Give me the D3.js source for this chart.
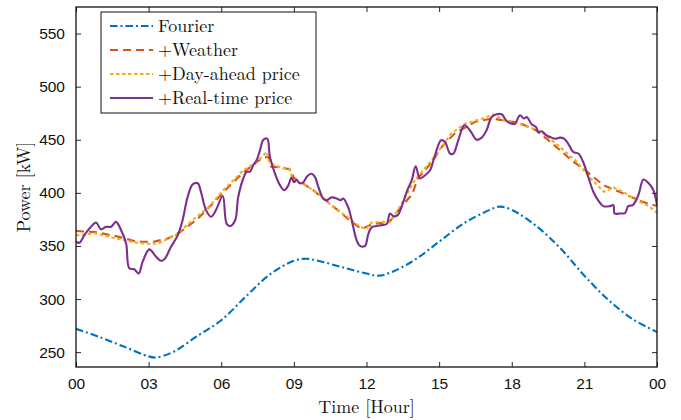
<!DOCTYPE html>
<html>
<head>
<meta charset="utf-8">
<script src="https://cdn.jsdelivr.net/npm/d3@7"></script>
<style>
  body { margin: 0; background: #fff; }
  svg { display: block; font-family: "Latin Modern Roman", "CMU Serif", "Liberation Serif", serif; }
</style>
</head>
<body>
<svg class="chart"></svg>
<script>
// tick labels
const xTicks = [0, 3, 6, 9, 12, 15, 18, 21, 24]
const xTickLabels = ["00", "03", "06", "09", "12", "15", "18", "21", "00"]
const yTicks = [250, 300, 350, 400, 450, 500, 550]

// series (hour, kW)
const fourierHours = [0,1,2,3,3.3,4,5,6,7,8,9,9.5,10,11,12,12.5,13,14,15,16,17,17.5,18,19,20,21,22,23,24]
const fourierValues = [272,264,255,246,245,250,265,280,302,323,336,338,336,330,324,322,325,337,354,371,383,387,384,369,348,322,299,281,269]

const weatherHours = [0,0.8,1.7,2.5,3.2,3.8,4.3,5,5.7,6.1,6.9,7.7,7.95,8.05,8.5,8.85,9.0,9.3,9.8,10.2,10.8,11.3,11.8,12.1,12.3,12.8,13.0,13.4,13.9,14.1,14.7,15.1,15.65,16.5,17.2,17.7,18.3,19.0,19.7,20.4,21.1,21.8,22.6,23.4,24]
const weatherValues = [364,363,359,354,354,357,363,375,391,401,419,433,434,424.5,424,422,414,410,402.5,395,384,374,366,369,371,372,374,386,399,413,429,443,456,467,470,468,466,459,446,432,420,407,399.5,391.5,387.5]

const dayAheadHours = [0,0.8,1.65,2.5,3.0,3.4,4.1,4.8,5.5,6.06,6.2,6.9,7.46,7.87,8.0,8.56,8.8,8.97,9.5,10.08,10.6,11.2,11.73,12.0,12.2,12.7,12.95,13.3,13.6,14.0,14.7,15.1,15.5,16.07,16.8,17.24,17.7,18.3,19.0,19.3,20.0,20.7,21.2,21.8,22.2,22.6,23.15,23.7,24]
const dayAheadValues = [360,362,357,353,352,352.4,360,374,387,402,405,421,429,438.5,428,423,423,412,407,398,387,377.5,368,366,372,372.7,372,384,396,412,431,443,456,465,470,474,468,465,459.6,456,443,429,415,401,405,401,393,387,381]

const realTimeHours = [0,0.14,0.34,0.62,0.83,1.03,1.24,1.45,1.65,1.86,2.07,2.2,2.41,2.59,2.75,3.03,3.3,3.51,3.65,3.92,4.2,4.4,4.61,4.82,5.03,5.16,5.37,5.58,5.78,6.06,6.22,6.36,6.57,6.7,6.91,7.05,7.19,7.32,7.46,7.6,7.74,7.9,8.01,8.22,8.43,8.6,8.77,8.9,9.0,9.11,9.25,9.39,9.55,9.73,9.87,10.01,10.21,10.35,10.56,10.77,10.93,11.04,11.25,11.45,11.59,11.73,11.94,12.07,12.21,12.42,12.63,12.83,12.97,13.11,13.29,13.45,13.66,13.87,14.03,14.21,14.42,14.62,14.83,15.08,15.24,15.45,15.59,15.79,16.04,16.27,16.55,16.76,16.96,17.17,17.38,17.58,17.79,18.0,18.13,18.34,18.5,18.62,18.82,19.0,19.1,19.24,19.44,19.65,19.79,19.99,20.16,20.33,20.54,20.75,20.95,21.16,21.37,21.57,21.78,22.06,22.2,22.25,22.47,22.68,22.81,23.0,23.23,23.44,23.64,23.85,24]
const realTimeValues = [354,353,360,368,372,365.6,368,368,372.7,365,352.4,329,328,324,335,346.8,340,336,337.4,349,360,374,396,408,409,401,383.7,377.5,383.7,397,371,368.7,374,396,413.5,419.7,420,426,430.7,440,450,451,434,418,407,402.5,407,414.5,410,412,409,410,415.7,418,415,405.6,394.7,393,395.7,394.7,393,394.7,386,368,355.5,350,350,361,367.5,368.7,369.6,370.6,380.6,378,379,386.8,401,412,425,413.5,416.6,421,435.4,449.5,448,437,437,449.5,463.6,459,450,452,459,471.4,474,474,467.7,465,465,473,470,471.4,464.6,462,457,458,454,452,451,452,451,446.4,438.5,437,429,415,401,393,387.5,387.5,388.4,380.6,380.6,381,387.5,388.4,398,412.6,409.4,402.5,388.4]

const seriesNames = ["Fourier", "+Weather", "+Day-ahead price", "+Real-time price"]

let svg = d3.select(".chart"),
    W = 681, H = 420,
    margin = {top: 7, right: 24, bottom: 53, left: 76},
    width = W - margin.left - margin.right,
    height = H - margin.top - margin.bottom

svg.attr("width", W).attr("height", H)

let x = d3.scaleLinear().domain([0, 24]).range([0, width]),
    y = d3.scaleLinear().domain([236, 575]).range([height, 0])

let g = svg.append("g").attr("transform", "translate(" + margin.left + "," + margin.top + ")")

let series = [
  {name: seriesNames[0], hours: fourierHours, values: fourierValues, color: "#0072BD", dash: "7.5,3,2,3", curve: d3.curveCatmullRom},
  {name: seriesNames[1], hours: weatherHours, values: weatherValues, color: "#D95319", dash: "8,5", curve: d3.curveLinear},
  {name: seriesNames[2], hours: dayAheadHours, values: dayAheadValues, color: "#EDB120", dash: "3.5,2.5", curve: d3.curveLinear},
  {name: seriesNames[3], hours: realTimeHours, values: realTimeValues, color: "#7E2F8E", dash: null, curve: d3.curveCatmullRom}
]

let clip = svg.append("defs").append("clipPath").attr("id", "plotclip")
clip.append("rect").attr("width", width).attr("height", height)

let plot = g.append("g").attr("clip-path", "url(#plotclip)")
series.forEach(s => {
  let line = d3.line().x(d => x(d[0])).y(d => y(d[1])).curve(s.curve)
  plot.append("path")
    .datum(d3.zip(s.hours, s.values))
    .attr("fill", "none")
    .attr("stroke", s.color)
    .attr("stroke-width", 2.1)
    .attr("stroke-linejoin", "round")
    .attr("stroke-dasharray", s.dash)
    .attr("d", line)
})

// axes, ticks inward, mirrored on top/right
function styleAxis(sel) {
  sel.select(".domain").remove()
  sel.selectAll(".tick line").attr("stroke", "#262626").attr("stroke-width", 1)
  sel.selectAll(".tick text").attr("fill", "#111").attr("font-size", 15.5).attr("font-family", null)
}
g.append("g").attr("transform", "translate(0," + height + ")")
  .call(d3.axisBottom(x).tickValues(xTicks).tickFormat((d, i) => xTickLabels[i]).tickSizeInner(-5).tickSizeOuter(0).tickPadding(11))
  .call(styleAxis)
g.append("g")
  .call(d3.axisTop(x).tickValues(xTicks).tickFormat("").tickSizeInner(-5).tickSizeOuter(0))
  .call(styleAxis)
g.append("g")
  .call(d3.axisLeft(y).tickValues(yTicks).tickSizeInner(-5).tickSizeOuter(0).tickPadding(11))
  .call(styleAxis)
g.append("g").attr("transform", "translate(" + width + ",0)")
  .call(d3.axisRight(y).tickValues(yTicks).tickFormat("").tickSizeInner(-5).tickSizeOuter(0))
  .call(styleAxis)

g.append("rect")
  .attr("width", width).attr("height", height)
  .attr("fill", "none").attr("stroke", "#111").attr("stroke-width", 1.3)

// axis labels
svg.append("text")
  .attr("x", margin.left + width / 2).attr("y", 413)
  .attr("text-anchor", "middle").attr("font-size", 18).attr("fill", "#111")
  .text("Time [Hour]")
svg.append("text")
  .attr("transform", "translate(30," + (margin.top + height / 2) + ") rotate(-90)")
  .attr("text-anchor", "middle").attr("font-size", 18).attr("fill", "#111")
  .text("Power [kW]")

// legend
let legend = svg.append("g").attr("transform", "translate(101,12)")
legend.append("rect")
  .attr("width", 215).attr("height", 101)
  .attr("fill", "#fff").attr("stroke", "#111").attr("stroke-width", 1)
series.forEach((s, i) => {
  let ly = 14 + i * 24
  legend.append("line")
    .attr("x1", 9).attr("x2", 52).attr("y1", ly).attr("y2", ly)
    .attr("stroke", s.color).attr("stroke-width", 2.1)
    .attr("stroke-dasharray", s.dash)
  legend.append("text")
    .attr("x", 57).attr("y", ly + 6)
    .attr("font-size", 18).attr("fill", "#111")
    .text(s.name)
})
</script>
</body>
</html>
